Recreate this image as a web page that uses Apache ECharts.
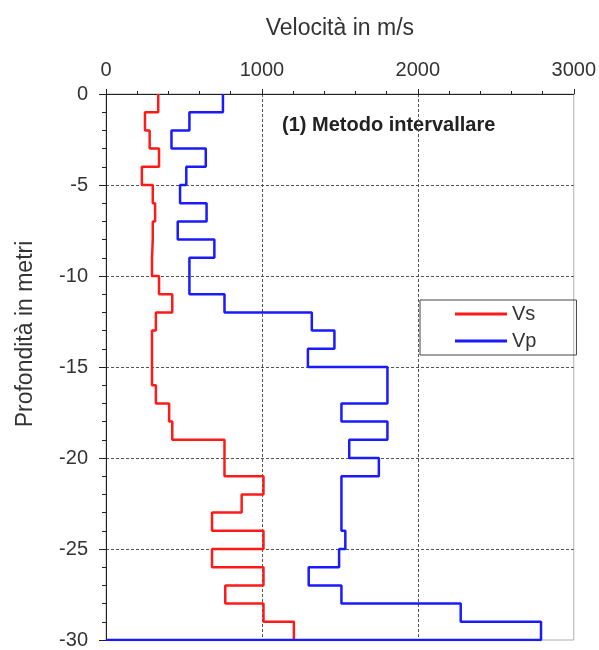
<!DOCTYPE html>
<html lang="it">
<head>
  <meta charset="UTF-8">
  <title>Metodo intervallare</title>
  <script src="https://cdn.jsdelivr.net/npm/echarts@6/dist/echarts.min.js"></script>
  <style>
    html, body { margin: 0; padding: 0; width: 100%; height: 100%; background: #fff; }
    #chart { width: 599px; height: 650px; }
  </style>
</head>
<body>
<div id="chart"></div>
<script>
  // layer boundaries in metres (each layer is 1 m thick)
  const depths = [0, -1, -2, -3, -4, -5, -6, -7, -8, -9, -10, -11, -12, -13, -14, -15,
    -16, -17, -18, -19, -20, -21, -22, -23, -24, -25, -26, -27, -28, -29, -30];

  // interval velocities per layer, m/s
  const vs = [335, 250, 280, 340, 230, 300, 315, 300, 295, 295, 340, 425, 320, 295, 295,
    295, 320, 405, 425, 760, 760, 1010, 870, 680, 1010, 680, 1010, 765, 1010, 1205];
  const vp = [750, 535, 420, 640, 515, 475, 645, 460, 695, 535, 535, 760, 1320, 1465, 1295,
    1805, 1805, 1510, 1805, 1560, 1750, 1510, 1510, 1510, 1535, 1495, 1300, 1510, 2275, 2790];

  const xTicks = [0, 1000, 2000, 3000];

  function steps(vals) {
    const pts = [];
    for (let i = 0; i < vals.length; i++) {
      pts.push([vals[i], depths[i]]);
      pts.push([vals[i], depths[i + 1]]);
    }
    return pts;
  }

  const vpData = steps(vp);
  vpData.push([0, depths[depths.length - 1]]);

  const font = 'Liberation Sans, Arial, sans-serif';
  const chart = echarts.init(document.getElementById('chart'));

  chart.setOption({
    animation: false,
    grid: {
      left: 106, right: 25, top: 94, bottom: 8,
      show: true, borderColor: '#b0b0b0', borderWidth: 1, backgroundColor: 'transparent'
    },
    legend: {
      orient: 'vertical',
      left: 420, top: 300,
      padding: [4, 40, 4, 35],
      itemGap: 7,
      itemWidth: 52, itemHeight: 3,
      icon: 'rect',
      borderColor: '#444', borderWidth: 1,
      textStyle: { fontFamily: font, fontSize: 20, color: '#333' },
      data: ['Vs', 'Vp']
    },
    xAxis: {
      type: 'value',
      position: 'top',
      min: xTicks[0], max: xTicks[xTicks.length - 1], interval: 1000,
      name: 'Velocità in m/s',
      nameLocation: 'middle',
      nameGap: 54,
      nameTextStyle: { fontFamily: font, fontSize: 23, color: '#333' },
      axisLine: { show: true, lineStyle: { color: '#222', width: 1 } },
      axisTick: { show: true, length: 5, lineStyle: { color: '#222' } },
      minorTick: { show: true, splitNumber: 5, length: 3, lineStyle: { color: '#222' } },
      axisLabel: {
        fontFamily: font, fontSize: 20, color: '#333', margin: 14,
        formatter: v => String(v)
      },
      splitLine: {
        show: true, showMinLine: false, showMaxLine: false,
        lineStyle: { type: [3, 2], color: '#555', width: 1 }
      }
    },
    yAxis: {
      type: 'value',
      min: -30, max: 0, interval: 5,
      axisLine: { show: true, onZero: false, lineStyle: { color: '#222', width: 1 } },
      axisTick: { show: true, length: 7, lineStyle: { color: '#222' } },
      minorTick: { show: true, splitNumber: 5, length: 4, lineStyle: { color: '#222' } },
      axisLabel: { fontFamily: font, fontSize: 20, color: '#333', margin: 18 },
      splitLine: {
        show: true, showMinLine: false, showMaxLine: false,
        lineStyle: { type: [3, 2], color: '#555', width: 1 }
      }
    },
    graphic: [
      {
        type: 'text',
        x: 26, y: 334,
        rotation: Math.PI / 2,
        style: {
          text: 'Profondità in metri',
          font: '23px ' + font,
          fill: '#333',
          align: 'center',
          verticalAlign: 'middle'
        }
      },
      {
        type: 'text',
        left: 282, top: 115,
        style: {
          text: '(1) Metodo intervallare',
          font: 'bold 20px ' + font,
          fill: '#222'
        }
      }
    ],
    series: [
      {
        name: 'Vs',
        type: 'line',
        symbol: 'none',
        lineStyle: { color: '#ff1a1a', width: 2.5 },
        itemStyle: { color: '#ff1a1a' },
        data: steps(vs)
      },
      {
        name: 'Vp',
        type: 'line',
        symbol: 'none',
        lineStyle: { color: '#1a1aff', width: 2.5 },
        itemStyle: { color: '#1a1aff' },
        data: vpData
      }
    ]
  });
</script>
</body>
</html>
